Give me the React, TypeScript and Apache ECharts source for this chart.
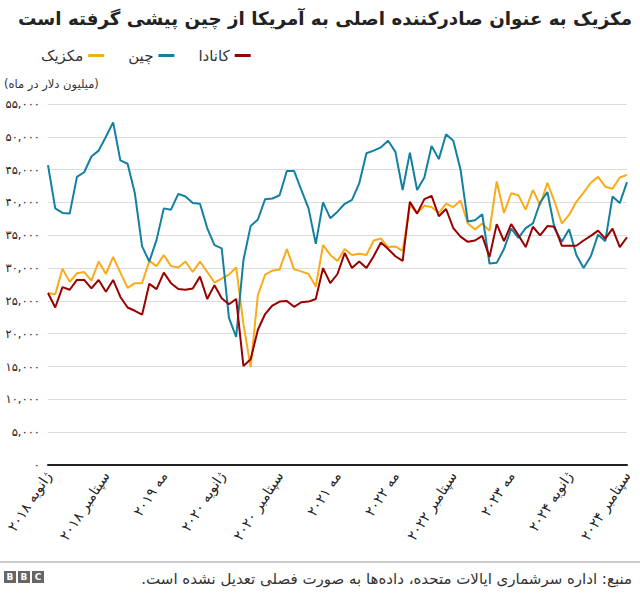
import React, { useEffect, useRef } from "react";
import * as echarts from "echarts";

const titleText = "مکزیک به عنوان صادرکننده اصلی به آمریکا از چین پیشی گرفته است";
const unitText = "(میلیون دلار در ماه)";
const sourceText = "منبع: اداره سرشماری ایالات متحده، داده‌ها به صورت فصلی تعدیل نشده است.";

const seriesNames = ["مکزیک", "چین", "کانادا"];

// Monthly, Jan 2018 – Sep 2024 (81 months), millions of USD
const mexico = [
  26200, 26000, 29900, 27900, 29200, 29400, 28100, 31000, 29100, 31700, 29300, 27000,
  27700, 27700, 31100, 30300, 32000, 30300, 30100, 31000, 29400, 31000, 29400, 27800,
  28400, 29000, 30100, 21500, 14900, 25900, 29000, 29600, 29800, 32900, 29800, 29500,
  29100, 27200, 33500, 32000, 31100, 32900, 32000, 32200, 32000, 34200, 34500, 33200,
  33300, 32600, 39600, 38400, 39500, 39300, 38400, 39800, 39300, 40300, 36800, 35900,
  36800, 35700, 43200, 38400, 41400, 41100, 38900, 41900, 39600, 43000, 40100, 36800,
  38100, 40100, 41500, 43000, 43900, 42400, 42100, 43800, 44200,
];

const china = [
  45700, 39100, 38400, 38300, 43900, 44600, 47000, 47900, 50000, 52200, 46400, 45900,
  41400, 33300, 31000, 34300, 39100, 38900, 41300, 40900, 39900, 39800, 36100, 33500,
  33000, 22400, 19500, 31200, 36400, 37400, 40500, 40600, 41100, 44800, 44800, 41900,
  39100, 33700, 40000, 37600, 38600, 39800, 40400, 42900, 47500, 47900, 48400, 49400,
  47700, 41900, 47600, 41900, 43800, 48600, 46600, 50400, 49400, 45000, 37100, 37300,
  38200, 30700, 30800, 32900, 36000, 34600, 36100, 36800, 40000, 41600, 36000, 34000,
  35900, 32000, 30000, 31800, 35100, 34100, 40900, 39900, 43100,
];

const canada = [
  26200, 24000, 27100, 26700, 28200, 28200, 26900, 28200, 26400, 28200, 25600, 24000,
  23500, 22900, 27600, 26800, 29300, 27700, 26800, 26700, 26900, 28700, 25300, 27400,
  25400, 24500, 25300, 15100, 16100, 20600, 23000, 24300, 24900, 25000, 24100, 24800,
  24900, 25300, 30000, 27700, 29100, 32300, 30000, 31000, 30000, 31800, 33900, 32900,
  31800, 31100, 40100, 38300, 40500, 41000, 37900, 39000, 36100, 34800, 34000, 34200,
  34900, 31700, 36700, 34100, 36700, 35000, 33200, 36300, 35000, 36400, 36300, 33400,
  33400, 33400, 34200, 34900, 35700, 34500, 36000, 33200, 34700,
];

const xTickLabels = [
  "ژانویه ۲۰۱۸",
  "سپتامبر ۲۰۱۸",
  "مه ۲۰۱۹",
  "ژانویه ۲۰۲۰",
  "سپتامبر ۲۰۲۰",
  "مه ۲۰۲۱",
  "مه ۲۰۲۲",
  "سپتامبر ۲۰۲۲",
  "مه ۲۰۲۳",
  "ژانویه ۲۰۲۴",
  "سپتامبر ۲۰۲۴",
];

const colors = { mexico: "#FAAB18", china: "#1380A1", canada: "#990000" };

const months: string[] = [];
for (let y = 2018; y <= 2024; y++) {
  for (let m = 1; m <= 12; m++) {
    if (y === 2024 && m > 9) break;
    months.push(`${y}-${m < 10 ? "0" + m : m}`);
  }
}

const toFa = (s: string) => s.replace(/\d/g, (d) => "۰۱۲۳۴۵۶۷۸۹"[+d]);
const rtl = (s: string) => "\u202B" + s + "\u202C";

const FONT = "'DejaVu Sans', 'Noto Sans', sans-serif";

export default function App() {
  const ref = useRef<HTMLDivElement>(null);
  useEffect(() => {
    if (!ref.current) return;
    const chart = echarts.init(ref.current, undefined, { renderer: "svg" });
    const mk = (name: string, data: number[], color: string) => ({
      name,
      type: "line",
      data,
      showSymbol: false,
      symbol: "none",
      lineStyle: { color, width: 2 },
      itemStyle: { color },
    });
    chart.setOption({
      animation: false,
      textStyle: { fontFamily: FONT },
      legend: {
        data: seriesNames,
        left: 36,
        top: 43,
        align: "right",
        icon: "rect",
        itemWidth: 16,
        itemHeight: 3,
        itemGap: 24,
        textStyle: { fontSize: 15, color: "#333", fontFamily: FONT },
      },
      grid: {
        left: 48,
        right: 13,
        top: 104,
        bottom: 128,
        containLabel: false,
        outerBoundsMode: "none",
      },
      xAxis: {
        type: "category",
        data: months,
        boundaryGap: false,
        axisLine: { lineStyle: { color: "#222", width: 2 } },
        axisTick: { show: false },
        splitLine: { show: false },
        axisLabel: {
          interval: 7,
          rotate: 57,
          margin: 8,
          fontSize: 14,
          color: "#222",
          fontFamily: FONT,
          formatter: (_v: string, i: number) => xTickLabels[Math.round(i / 8)] ?? "",
        },
      },
      yAxis: {
        type: "value",
        min: 0,
        max: 55000,
        interval: 5000,
        axisLine: { show: false },
        axisTick: { show: false },
        splitLine: { lineStyle: { color: "#dcdcdc", width: 1 } },
        axisLabel: {
          margin: 8,
          fontSize: 11.5,
          color: "#222",
          fontFamily: FONT,
          formatter: (v: number) => toFa(v.toLocaleString("en-US")),
        },
      },
      series: [
        mk(seriesNames[0], mexico, colors.mexico),
        mk(seriesNames[1], china, colors.china),
        mk(seriesNames[2], canada, colors.canada),
      ],
      graphic: [
        {
          type: "text",
          x: 632,
          y: 18,
          style: {
            text: rtl(titleText),
            fontSize: 18.3,
            fontWeight: "bold",
            fill: "#222",
            align: "right",
            verticalAlign: "middle",
            fontFamily: FONT,
          },
        },
        {
          type: "text",
          x: 4,
          y: 84,
          style: {
            text: unitText,
            fontSize: 11.5,
            fill: "#333",
            align: "left",
            verticalAlign: "middle",
            fontFamily: FONT,
          },
        },
        {
          type: "line",
          shape: { x1: 0, y1: 562, x2: 640, y2: 562 },
          style: { stroke: "#999", lineWidth: 1 },
        },
        {
          type: "text",
          x: 632,
          y: 579,
          style: {
            text: rtl(sourceText),
            fontSize: 15,
            fill: "#333",
            align: "right",
            verticalAlign: "middle",
            fontFamily: FONT,
          },
        },
        ...["B", "B", "C"].flatMap((ch, k) => [
          {
            type: "rect",
            shape: { x: 4 + k * 14, y: 571, width: 12, height: 12 },
            style: { fill: "#666" },
          },
          {
            type: "text",
            x: 10 + k * 14,
            y: 577,
            style: {
              text: ch,
              fill: "#fff",
              fontSize: 9,
              fontWeight: "bold",
              align: "center",
              verticalAlign: "middle",
              fontFamily: FONT,
            },
          },
        ]),
      ],
    });
    return () => chart.dispose();
  }, []);
  return (
    <div
      ref={ref}
      style={{ position: "fixed", left: 0, top: 0, width: 640, height: 593, background: "#fff" }}
    />
  );
}
